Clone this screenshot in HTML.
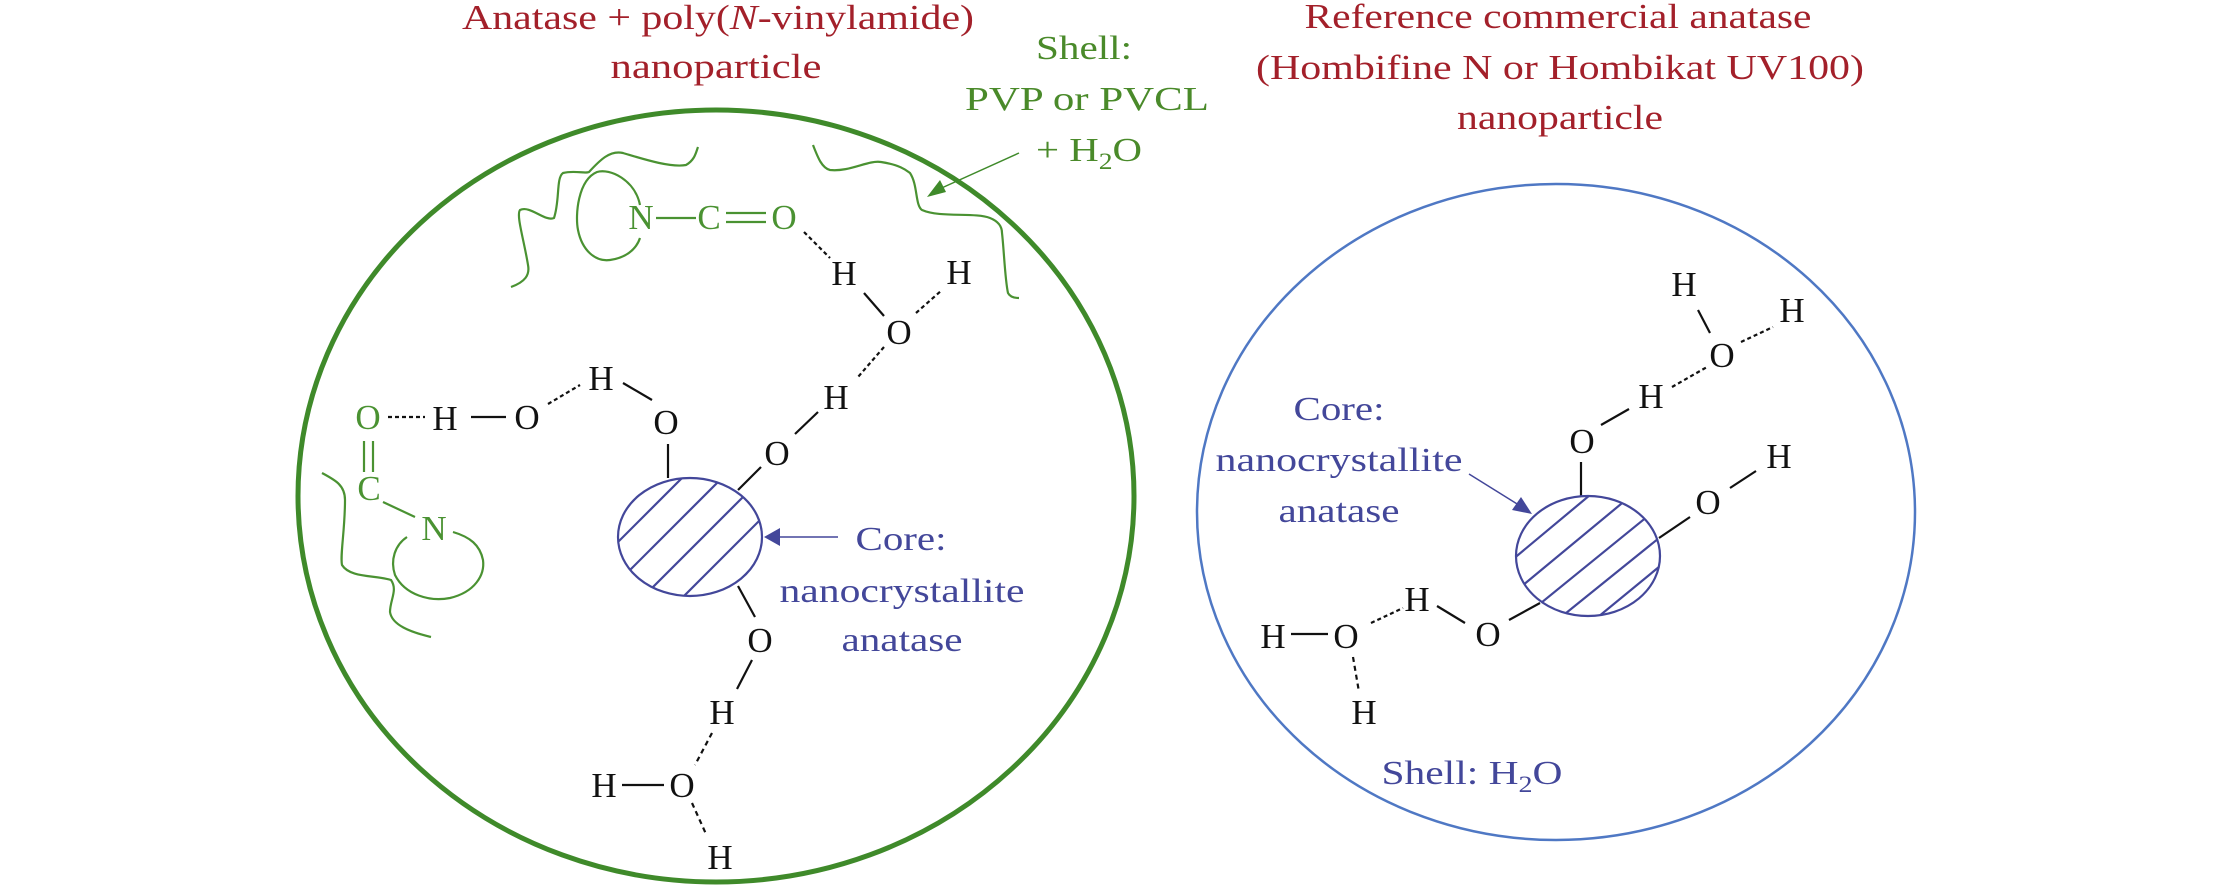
<!DOCTYPE html>
<html><head><meta charset="utf-8"><style>
html,body{margin:0;padding:0;background:#fff;}
svg{display:block;}
text{font-family:"Liberation Serif",serif;}
</style></head><body>
<svg width="2213" height="886" viewBox="0 0 2213 886" xmlns="http://www.w3.org/2000/svg">
<defs>
<clipPath id="c1"><ellipse cx="690" cy="537" rx="72" ry="59"/></clipPath>
<clipPath id="c2"><ellipse cx="1588" cy="556" rx="72" ry="60"/></clipPath>
</defs>

<!-- Titles -->
<g fill="#a3202a" font-size="35" text-anchor="middle">
<text x="718" y="29" textLength="512" lengthAdjust="spacingAndGlyphs">Anatase + poly(<tspan font-style="italic">N</tspan>-vinylamide)</text>
<text x="716" y="78" textLength="211" lengthAdjust="spacingAndGlyphs">nanoparticle</text>
<text x="1558" y="28" textLength="507" lengthAdjust="spacingAndGlyphs">Reference commercial anatase</text>
<text x="1560" y="79" textLength="608" lengthAdjust="spacingAndGlyphs">(Hombifine N or Hombikat UV100)</text>
<text x="1560" y="129" textLength="206" lengthAdjust="spacingAndGlyphs">nanoparticle</text>
</g>
<g fill="#4a8a2a" font-size="34" text-anchor="middle">
<text x="1084" y="59" textLength="96" lengthAdjust="spacingAndGlyphs">Shell:</text>
<text x="1087" y="110" textLength="244" lengthAdjust="spacingAndGlyphs">PVP or PVCL</text>
<text x="1089" y="161" textLength="106" lengthAdjust="spacingAndGlyphs">+ H<tspan font-size="23" dy="8">2</tspan><tspan dy="-8">O</tspan></text>
</g>

<!-- circles -->
<ellipse cx="716" cy="496" rx="418" ry="386" fill="none" stroke="#3f8a2a" stroke-width="5"/>
<ellipse cx="1556" cy="512" rx="359" ry="328" fill="none" stroke="#4f78c4" stroke-width="2.5"/>

<!-- green arrow -->
<line x1="1019" y1="153" x2="935" y2="191" stroke="#3f8a2a" stroke-width="1.5"/>
<polygon points="927,197 940,180 946,192" fill="#3f8a2a"/>

<!-- polymer squiggles -->
<g fill="none" stroke="#4a9232" stroke-width="2.2">
<path d="M511,287 C525,282 530,275 528,265 C524,240 516,215 520,210 C530,205 545,222 554,218 C560,200 556,178 563,173 C575,170 585,174 589,172 C600,160 610,150 623,153 C640,158 670,168 686,165 C695,160 696,152 698,147"/>
<path d="M813,145 C818,158 822,168 830,170 C850,172 868,160 881,162 C900,165 906,170 910,173 C918,185 915,205 922,210 C940,218 975,212 990,218 C1000,222 1002,228 1002,233 C1004,250 1005,280 1008,293 C1010,297 1015,298 1019,298"/>
<path d="M640,205 C635,180 610,168 597,172 C578,180 575,215 578,230 C582,250 595,262 610,260 C625,258 636,250 640,238"/>
<path d="M322,473 C335,480 345,485 345,500 C345,530 340,555 342,565 C350,578 375,575 391,580 C398,590 390,600 390,612 C392,625 410,632 431,637"/>
<path d="M407,537 C395,545 390,560 395,575 C405,595 430,602 450,598 C475,592 485,575 483,560 C480,545 470,537 453,532"/>
</g>

<!-- green atoms -->
<g fill="#4a9232" font-size="35" text-anchor="middle">
<text x="641" y="229">N</text>
<text x="709" y="229">C</text>
<text x="784" y="229">O</text>
<text x="368" y="429">O</text>
<text x="369" y="500">C</text>
<text x="434" y="540">N</text>
</g>
<g stroke="#4a9232" stroke-width="2.2">
<line x1="656" y1="218" x2="696" y2="218"/>
<line x1="726" y1="213" x2="766" y2="213"/>
<line x1="726" y1="222" x2="766" y2="222"/>
<line x1="364" y1="441" x2="364" y2="472"/>
<line x1="373" y1="441" x2="373" y2="472"/>
<line x1="383" y1="502" x2="415" y2="517"/>
</g>

<!-- black atoms left -->
<g fill="#111" font-size="35" text-anchor="middle">
<text x="844" y="285">H</text>
<text x="959" y="284">H</text>
<text x="899" y="344">O</text>
<text x="836" y="409">H</text>
<text x="777" y="465">O</text>
<text x="445" y="430">H</text>
<text x="527" y="429">O</text>
<text x="601" y="390">H</text>
<text x="666" y="434">O</text>
<text x="760" y="652">O</text>
<text x="722" y="724">H</text>
<text x="682" y="797">O</text>
<text x="604" y="797">H</text>
<text x="720" y="869">H</text>
</g>
<g stroke="#111" stroke-width="2.2" fill="none">
<line x1="804" y1="232" x2="830" y2="258" stroke-dasharray="4,3"/>
<line x1="864" y1="293" x2="884" y2="316"/>
<line x1="916" y1="313" x2="942" y2="290" stroke-dasharray="4,3"/>
<line x1="884" y1="347" x2="858" y2="377" stroke-dasharray="4,3"/>
<line x1="818" y1="412" x2="795" y2="434"/>
<line x1="388" y1="417" x2="425" y2="417" stroke-dasharray="4,3"/>
<line x1="471" y1="417" x2="506" y2="417"/>
<line x1="548" y1="404" x2="580" y2="385" stroke-dasharray="4,3"/>
<line x1="623" y1="383" x2="652" y2="400"/>
<line x1="668" y1="444" x2="668" y2="478"/>
<line x1="738" y1="490" x2="761" y2="467"/>
<line x1="738" y1="586" x2="755" y2="617"/>
<line x1="752" y1="660" x2="737" y2="689"/>
<line x1="712" y1="733" x2="695" y2="765" stroke-dasharray="5,4"/>
<line x1="622" y1="785" x2="664" y2="785"/>
<line x1="692" y1="803" x2="706" y2="834" stroke-dasharray="5,4"/>
</g>

<!-- core left -->
<g clip-path="url(#c1)" stroke="#43479a" stroke-width="2.2">
<line x1="560" y1="560" x2="700" y2="420"/>
<line x1="575" y1="585" x2="735" y2="425"/>
<line x1="590" y1="610" x2="770" y2="430"/>
<line x1="610" y1="630" x2="800" y2="440"/>
<line x1="635" y1="645" x2="820" y2="460"/>
<line x1="660" y1="660" x2="840" y2="480"/>
<line x1="690" y1="670" x2="860" y2="500"/>
<line x1="720" y1="680" x2="880" y2="520"/>
</g>
<ellipse cx="690" cy="537" rx="72" ry="59" fill="none" stroke="#43479a" stroke-width="2.2"/>
<line x1="838" y1="537" x2="780" y2="537" stroke="#43479a" stroke-width="1.5"/>
<polygon points="764,537 780,528 780,546" fill="#43479a"/>
<g fill="#43479a" font-size="34" text-anchor="middle">
<text x="901" y="550" textLength="91" lengthAdjust="spacingAndGlyphs">Core:</text>
<text x="902" y="602" textLength="245" lengthAdjust="spacingAndGlyphs">nanocrystallite</text>
<text x="902" y="651" textLength="121" lengthAdjust="spacingAndGlyphs">anatase</text>
</g>

<!-- right side -->
<g fill="#111" font-size="35" text-anchor="middle">
<text x="1684" y="296">H</text>
<text x="1792" y="322">H</text>
<text x="1722" y="367">O</text>
<text x="1651" y="408">H</text>
<text x="1582" y="453">O</text>
<text x="1779" y="468">H</text>
<text x="1708" y="514">O</text>
<text x="1417" y="611">H</text>
<text x="1488" y="646">O</text>
<text x="1273" y="648">H</text>
<text x="1346" y="648">O</text>
<text x="1364" y="724">H</text>
</g>
<g stroke="#111" stroke-width="2.2">
<line x1="1698" y1="310" x2="1710" y2="333"/>
<line x1="1741" y1="342" x2="1773" y2="327" stroke-dasharray="4,3"/>
<line x1="1672" y1="387" x2="1707" y2="367" stroke-dasharray="4,3"/>
<line x1="1601" y1="425" x2="1629" y2="409"/>
<line x1="1581" y1="462" x2="1581" y2="496"/>
<line x1="1730" y1="488" x2="1756" y2="471"/>
<line x1="1659" y1="538" x2="1690" y2="517"/>
<line x1="1540" y1="603" x2="1509" y2="620"/>
<line x1="1437" y1="606" x2="1465" y2="623"/>
<line x1="1371" y1="623" x2="1403" y2="608" stroke-dasharray="4,3"/>
<line x1="1291" y1="634" x2="1328" y2="634"/>
<line x1="1353" y1="657" x2="1359" y2="692" stroke-dasharray="5,4"/>
</g>
<g clip-path="url(#c2)" stroke="#43479a" stroke-width="2.2">
<line x1="1500" y1="570" x2="1620" y2="470"/>
<line x1="1505" y1="600" x2="1650" y2="480"/>
<line x1="1520" y1="620" x2="1680" y2="490"/>
<line x1="1545" y1="630" x2="1700" y2="505"/>
<line x1="1570" y1="640" x2="1710" y2="525"/>
<line x1="1600" y1="645" x2="1720" y2="545"/>
<line x1="1490" y1="545" x2="1590" y2="462"/>
</g>
<ellipse cx="1588" cy="556" rx="72" ry="60" fill="none" stroke="#43479a" stroke-width="2.2"/>
<line x1="1469" y1="474" x2="1522" y2="507" stroke="#43479a" stroke-width="1.5"/>
<polygon points="1532,514 1512,510 1521,497" fill="#43479a"/>
<g fill="#43479a" font-size="34" text-anchor="middle">
<text x="1339" y="420" textLength="91" lengthAdjust="spacingAndGlyphs">Core:</text>
<text x="1339" y="471" textLength="247" lengthAdjust="spacingAndGlyphs">nanocrystallite</text>
<text x="1339" y="522" textLength="121" lengthAdjust="spacingAndGlyphs">anatase</text>
<text x="1472" y="784" textLength="181" lengthAdjust="spacingAndGlyphs">Shell: H<tspan font-size="23" dy="8">2</tspan><tspan dy="-8">O</tspan></text>
</g>
</svg>
</body></html>
